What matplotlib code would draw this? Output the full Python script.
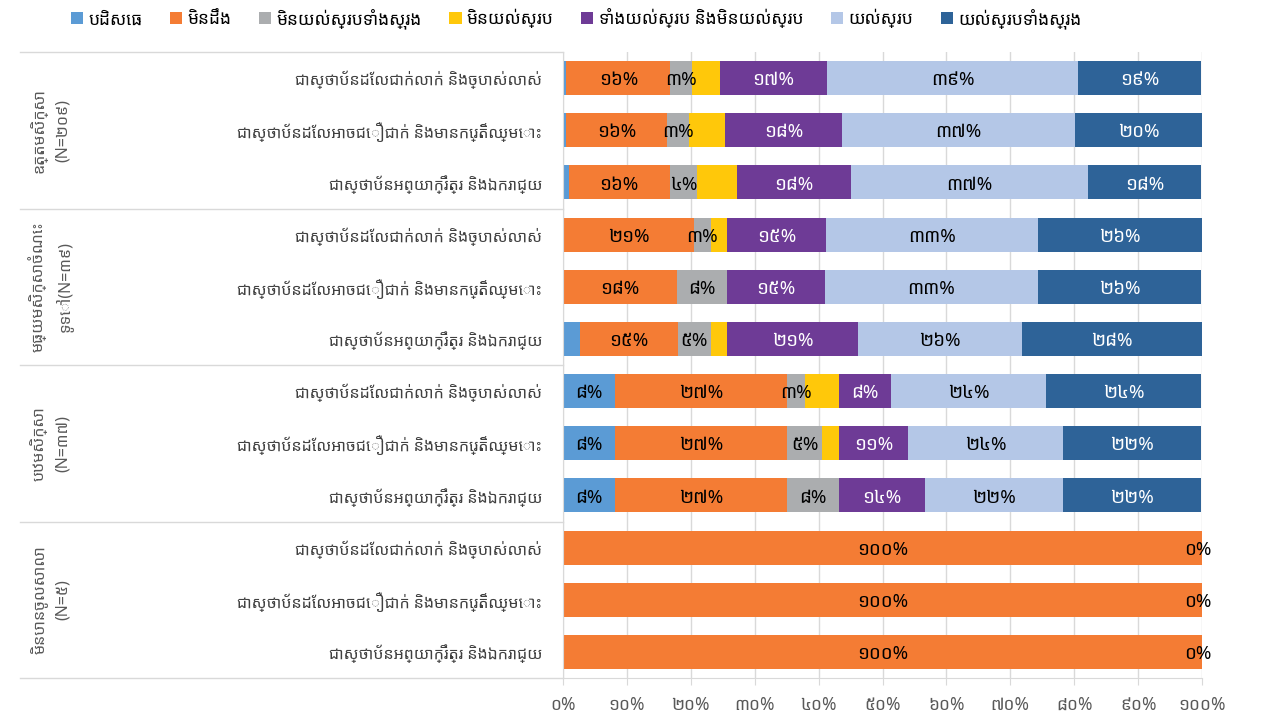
#!/usr/bin/env python3
"""
Stacked 100% bars: trust in institutions, by education level (Khmer labels)
"""

import numpy as np
import matplotlib

matplotlib.use("Agg")
import matplotlib.pyplot as plt
from matplotlib import font_manager, transforms
from matplotlib.ft2font import FT2Font
from matplotlib.patches import Patch

# --- data (percent of respondents), rows top to bottom ---
items = [
    "ជាស្ថាប័នដែលជាក់លាក់ និងច្បាស់លាស់",
    "ជាស្ថាប័នដែលអាចជឿជាក់ និងមានកេរ្តិ៍ឈ្មោះ",
    "ជាស្ថាប័នអព្យាក្រឹត្រ និងឯករាជ្យ",
]
groups = [
    "ឧត្តមសិក្សា\n(N=២០៩)",
    "មធ្យមសិក្សាចំណេះ\nទូទៅ(N=៣៩)",
    "បឋមសិក្សា\n(N=៣៧)",
    "មិនបានចូលសាលា\n(N=៥)",
]
series_names = [
    "បដិសេធ",
    "មិនដឹង",
    "មិនយល់ស្របទាំងស្រុង",
    "មិនយល់ស្រប",
    "ទាំងយល់ស្រប និងមិនយល់ស្រប",
    "យល់ស្រប",
    "យល់ស្របទាំងស្រុង",
]
refuse = [0.5, 0.5, 0.9, 0, 0, 2.6, 8.1, 8.1, 8.1, 0, 0, 0]
dont_know = [16.3, 15.8, 15.8, 20.5, 17.9, 15.4, 27.0, 27.0, 27.0, 100, 100, 100]
strongly_disagree = [3.4, 3.4, 4.3, 2.6, 7.7, 5.1, 2.7, 5.4, 8.1, 0, 0, 0]
disagree = [4.4, 5.7, 6.3, 2.6, 0, 2.6, 5.4, 2.7, 0, 0, 0, 0]
neutral = [16.7, 18.2, 17.7, 15.4, 15.4, 20.5, 8.1, 10.8, 13.5, 0, 0, 0]
agree = [39.3, 36.6, 37.1, 33.3, 33.3, 25.6, 24.3, 24.3, 21.6, 0, 0, 0]
strongly_agree = [19.3, 19.8, 17.8, 25.6, 25.6, 28.2, 24.3, 21.6, 21.6, 0, 0, 0]

series = [refuse, dont_know, strongly_disagree, disagree, neutral, agree, strongly_agree]
colors = ["#5B9BD5", "#F47C34", "#ABADAF", "#FFC80A", "#6E3B96", "#B4C7E7", "#2E6398"]
label_colors = ["black", "black", "black", "black", "white", "black", "white"]
label_min = [5, 2.5, 2.5, 101, 2.5, 2.5, 2.5]  # smaller segments carry no label

KHMER_DIGITS = str.maketrans("0123456789", "០១២៣៤៥៦៧៨៩")


def kh(s):
    return str(s).translate(KHMER_DIGITS)


def pct(v):
    return kh(int(np.floor(v + 0.5))) + "%"


def khmer_font():
    found = []
    for f in font_manager.fontManager.ttflist:
        try:
            if 0x1780 in FT2Font(f.fname).get_charmap() and f.name not in found:
                found.append(f.name)
        except Exception:
            pass
    for pref in ["Noto Sans Khmer", "Noto Sans Khmer UI", "Khmer"]:
        if pref in found:
            return [pref]
    return found[:1]


def main():
    plt.rcParams["font.family"] = khmer_font() + ["DejaVu Sans"]

    fig = plt.figure(figsize=(12.8, 7.15), dpi=100)
    ax = fig.add_axes([563 / 1280, 1 - 678 / 715, 639 / 1280, 626 / 715])

    nrows = len(refuse)
    y = np.arange(nrows)
    left = np.zeros(nrows)
    for k, (vals, col) in enumerate(zip(series, colors)):
        vals = np.array(vals, dtype=float)
        ax.barh(y, vals, left=left, height=0.65, color=col, zorder=2)
        for i, v in enumerate(vals):
            if v >= label_min[k]:
                ax.text(left[i] + v / 2, y[i] + 0.04, pct(v), ha="center", va="center",
                        fontsize=13.5, fontweight="bold", color=label_colors[k], zorder=3)
            elif k == len(series) - 1 and v == 0 and i >= 9:
                # empty last segment still shows its label at the bar end
                ax.text(left[i] - 0.6, y[i] + 0.04, pct(v), ha="center", va="center",
                        fontsize=13.5, fontweight="bold", color="black", zorder=3,
                        clip_on=False)
        left += vals

    ax.set_xlim(0, 100)
    ax.set_ylim(nrows - 0.5, -0.5)
    ax.set_xticks(np.arange(0, 101, 10))
    ax.set_xticklabels([kh(t) + "%" for t in range(0, 101, 10)])
    ax.tick_params(axis="x", colors="#D9D9D9", labelcolor="#595959", labelsize=12.5,
                   length=5, pad=8)
    ax.grid(axis="x", color="#D9D9D9", linewidth=1, zorder=0)
    ax.set_yticks(y)
    ax.set_yticklabels(items * len(groups))
    ax.tick_params(axis="y", length=0, labelsize=11.5, labelcolor="#404040", pad=15)
    for s in ["top", "right"]:
        ax.spines[s].set_visible(False)
    for s in ["left", "bottom"]:
        ax.spines[s].set_color("#D9D9D9")

    # category group separators and group names
    tr = transforms.blended_transform_factory(fig.transFigure, ax.transData)
    x0 = 20 / 1280
    x1 = 563 / 1280
    for g in range(len(groups) + 1):
        yy = g * 3 - 0.5
        ax.plot([x0, x1], [yy, yy], transform=tr, color="#D9D9D9", lw=1, clip_on=False)
    for g, name in enumerate(groups):
        ax.text(50 / 1280, g * 3 + 1, name, transform=tr, rotation=90, ha="center",
                va="center", multialignment="center", fontsize=11.5, color="#595959",
                linespacing=1.6)

    handles = [Patch(facecolor=c) for c in colors]
    fig.legend(handles, series_names, loc="upper center", bbox_to_anchor=(0.45, 1.01),
               ncol=7, frameon=False, fontsize=12.5, handlelength=0.7, handleheight=0.7,
               handletextpad=0.3, columnspacing=1.6)

    fig.savefig("out.png", dpi=100)


if __name__ == "__main__":
    main()
